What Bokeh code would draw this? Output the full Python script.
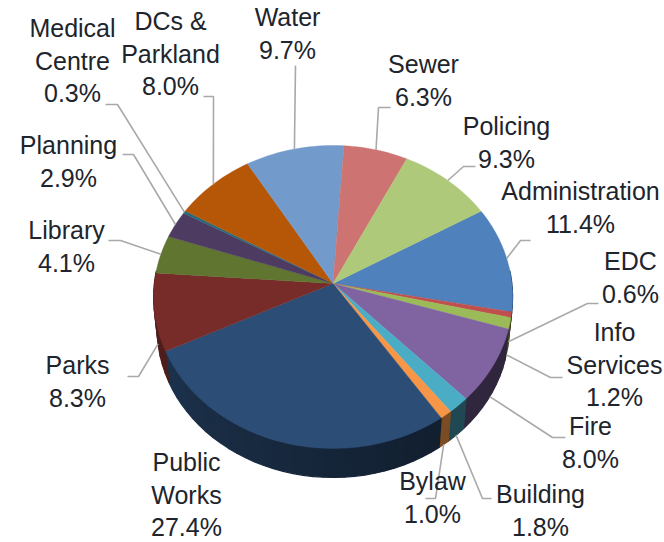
import math
from bokeh.plotting import figure
from bokeh.models import Range1d
from bokeh.core.properties import value
from bokeh.embed import file_html
from bokeh.resources import INLINE

# ---- data (clockwise, starting at Administration) ----
categories = ["Administration", "EDC", "Info\nServices", "Fire", "Building", "Bylaw",
              "Public\nWorks", "Parks", "Library", "Planning", "Medical\nCentre",
              "DCs &\nParkland", "Water", "Sewer", "Policing"]
shares = [11.4, 0.6, 1.2, 8.0, 1.8, 1.0, 27.4, 8.3, 4.1, 2.9, 0.3, 8.0, 9.7, 6.3, 9.3]
colors = ["#4F81BD", "#C0504D", "#9BBB59", "#8064A2", "#4BACC6", "#F79646", "#2C4D75",
          "#772C2A", "#5F7530", "#4D3B62", "#276A7C", "#B65708", "#729ACA", "#CD7371", "#AFC97A"]

# ---- layout (image pixels) ----
W, H = 664, 542
APEX_X, APEX_Y = 332.6, 283.0
BACK, FRONT = 138.0, 165.0        # apex -> rim, on screen
RX = 179.5
START = 59.8
ELL_Y = APEX_Y + (FRONT - BACK) / 2
WALL_SCALE, WALL_DROP = 0.98, 32.0
FONT_PX = 25
LINE_PX = 32.5
TEXT_SHIFT = -1.5
LEADER = "#a9a9a9"
TEXT = "#20242c"
wall_flat = {"Fire": 0.38, "Building": 0.42, "Bylaw": 0.5}

label_xy = [(580, 192), (630, 262), (614, 333), (590, 427), (540, 495), (432, 482),
            (186, 463), (77, 366), (66, 231), (68, 146), (72, 29), (170, 22), (287, 18),
            (423, 65), (506, 127)]
# elbow points for each leader, then how far down the wall it lands
leader_elbows = [[(530, 240), (520, 240)], [(598, 303), (587, 303)], [(562, 377), (550, 377)],
                 [(565, 437), (552, 437)], [(491, 498), (482, 498)], [(425, 498), (435, 498)],
                 None, [(127, 376), (138, 376)], [(108, 240), (120, 240)], [(122, 154), (133, 154)],
                 [(105, 104), (117, 104)], [(203, 96), (213, 96)], [(295, 65)],
                 [(390, 107), (378, 107)], [(475, 166), (463, 166)]]
leader_drop = [0, 0.85, 1, 1, 1, 1, 0, 1, 0, 0, 0, 0, 0, 0, 0]

k = (FRONT / BACK - 1) / (FRONT / BACK + 1)
h = BACK * (1 + k)
b = RX * math.sqrt(1 - k * k)


def rim(theta, depth=0.0):
    t = math.radians(theta)
    w = 1 + k * math.cos(t)
    x = APEX_X + b * math.sin(t) / w
    y = APEX_Y - h * math.cos(t) / w
    if depth:
        x = APEX_X + (x - APEX_X) * (1 - (1 - WALL_SCALE) * depth)
        y = ELL_Y + (y - ELL_Y) * (1 - (1 - WALL_SCALE) * depth) + WALL_DROP * depth
    return x, y


def shade(hexcol, f):
    r, g, bl = (int(hexcol[i:i + 2], 16) for i in (1, 3, 5))
    return "#%02x%02x%02x" % (int(r * f), int(g * f), int(bl * f))


def wall_factor(theta):
    if theta <= 146:
        return 0.42
    return 0.40 + (min(theta, 250) - 146) / 104 * 0.27


total = sum(shares)
edges = [START]
for s in shares:
    edges.append(edges[-1] + s / total * 360)

p = figure(width=W, height=H, x_range=Range1d(0, W), y_range=Range1d(H, 0),
           toolbar_location=None, output_backend="svg", min_border=0,
           background_fill_color="white", outline_line_color=None)
p.axis.visible = False
p.grid.visible = False

# wall
wx, wy, wc = [], [], []
for i, col in enumerate(colors):
    a, e = edges[i], edges[i + 1]
    lo, hi = max(a, 85), min(e, 275)
    if hi <= lo:
        continue
    n = max(1, int((hi - lo) / 3))
    for j in range(n):
        t0, t1 = lo + (hi - lo) * j / n, lo + (hi - lo) * (j + 1) / n
        pts = [rim(t0), rim(t1), rim(t1, 1), rim(t0, 1)]
        wx.append([q[0] for q in pts])
        wy.append([q[1] for q in pts])
        f = wall_flat.get(categories[i], wall_factor((t0 + t1) / 2))
        wc.append(shade(col, f))
p.patches(wx, wy, fill_color=wc, line_color=wc, line_width=1.2)

# top face
fx, fy = [], []
for i in range(len(shares)):
    a, e = edges[i], edges[i + 1]
    n = max(2, int((e - a) / 1.5))
    pts = [(APEX_X, APEX_Y)] + [rim(a + (e - a) * j / n) for j in range(n + 1)]
    fx.append([q[0] for q in pts])
    fy.append([q[1] for q in pts])
p.patches(fx, fy, fill_color=colors, line_color=colors, line_width=0.4)

# leaders
lx, ly = [], []
for i, elbows in enumerate(leader_elbows):
    if not elbows:
        continue
    mid = (edges[i] + edges[i + 1]) / 2
    end = rim(mid, leader_drop[i])
    pts = list(elbows) + [end]
    lx.append([q[0] for q in pts])
    ly.append([q[1] for q in pts])
p.multi_line(lx, ly, line_color=LEADER, line_width=1.6)

# labels
tx, ty, tt = [], [], []
for i, name in enumerate(categories):
    lines = name.split("\n") + ["%.1f%%" % shares[i]]
    x, y = label_xy[i]
    for j, line in enumerate(lines):
        tx.append(x)
        ty.append(y + TEXT_SHIFT + j * LINE_PX)
        tt.append(line)
p.text(tx, ty, text=tt, text_font=value("Liberation Sans"), text_font_size="%dpx" % FONT_PX,
       text_align="center", text_baseline="middle", text_color=TEXT)

open("out.html", "w").write(file_html(p, INLINE))
